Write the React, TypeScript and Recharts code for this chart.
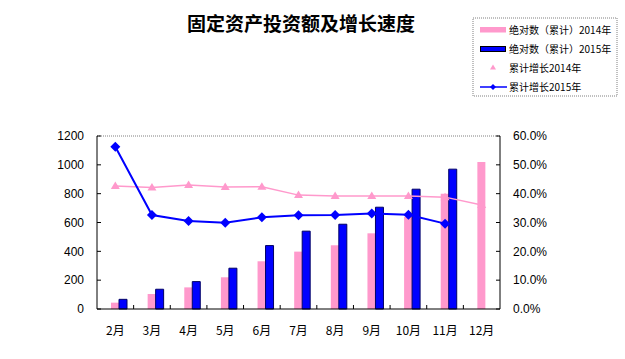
import React from 'react';
import { ComposedChart, Bar, Line, XAxis, YAxis, ReferenceLine, Rectangle } from 'recharts';

const months = ['2月', '3月', '4月', '5月', '6月', '7月', '8月', '9月', '10月', '11月', '12月'];
const abs2014 = [44, 104, 150, 220, 331, 398, 442, 525, 640, 800, 1020];
const abs2015: (number | null)[] = [67, 137, 190, 283, 440, 540, 588, 706, 831, 970, null];
const growth2014 = [42.7, 42.1, 43.0, 42.3, 42.4, 39.5, 39.2, 39.2, 39.2, 38.8, 36.1];
const growth2015: (number | null)[] = [56.3, 32.6, 30.5, 29.9, 31.8, 32.5, 32.6, 33.1, 32.7, 29.6, null];
const leftTicks = [0, 200, 400, 600, 800, 1000, 1200];
const rightTicks = [0, 10, 20, 30, 40, 50, 60];

const title = '固定资产投资额及增长速度';
const legendLabels = ['绝对数（累计）2014年', '绝对数（累计）2015年', '累计增长2014年', '累计增长2015年'];

const data = months.map((m, i) => ({
  month: m,
  a14: abs2014[i],
  a15: abs2015[i],
  g14: growth2014[i],
  g15: growth2015[i],
}));

const PINK = '#FF99CC';
const BLUE = '#0000FF';
const NAVY = '#000066';
const FONT = '"Liberation Sans", Arial, "Noto Sans CJK SC", sans-serif';
const CJK = '"Noto Sans CJK SC", "Liberation Sans", sans-serif';

const W = 625;
const H = 359;
const MARGIN = { top: 136, right: 65, bottom: 20, left: 0 };
const LEFT_W = 97;
const RIGHT_W = 60;
const PLOT_W = W - MARGIN.left - MARGIN.right - LEFT_W - RIGHT_W;
const HALF_BAND = PLOT_W / months.length / 2;

const XTick = (props: any) => {
  const { x, y, payload, index } = props;
  const idx = index ?? payload?.index ?? 0;
  return (
    <g>
      <text x={x} y={y + 26} textAnchor="middle" fontSize={12} fontFamily={CJK} fill="#000">
        {payload.value}
      </text>
      {idx > 0 && (
        <line x1={x - HALF_BAND} x2={x - HALF_BAND} y1={y} y2={y - 4} stroke="#000" strokeWidth={1} />
      )}
    </g>
  );
};

const Triangle = (props: any) => {
  const { cx, cy } = props;
  if (cx == null || cy == null || props.value == null) return null;
  return <polygon points={`${cx},${cy - 4.5} ${cx + 4.5},${cy + 3} ${cx - 4.5},${cy + 3}`} fill={PINK} />;
};

const Diamond = (props: any) => {
  const { cx, cy } = props;
  if (cx == null || cy == null || props.value == null) return null;
  return <polygon points={`${cx},${cy - 5} ${cx + 5},${cy} ${cx},${cy + 5} ${cx - 5},${cy}`} fill={BLUE} />;
};

const BlueBar = (props: any) => {
  if (props.value == null || !props.height) return null;
  return <Rectangle {...props} x={props.x + props.width} fill={BLUE} stroke={NAVY} strokeWidth={1} />;
};

const Legend = () => (
  <svg width={146} height={80} style={{ position: 'absolute', left: 472, top: 17 }}>
    <rect x={1} y={1} width={144} height={78} fill="#fff" stroke="#808080" strokeDasharray="1 1" />
    <rect x={8} y={10} width={26} height={5.5} fill={PINK} />
    <text x={37} y={16.5} fontSize={10} fontFamily={CJK} fill="#000">{legendLabels[0]}</text>
    <rect x={8.5} y={29.5} width={25} height={5} fill={BLUE} stroke="#000" strokeWidth={1} />
    <text x={37} y={35.5} fontSize={10} fontFamily={CJK} fill="#000">{legendLabels[1]}</text>
    <polygon points="21,47.5 24,52.5 18,52.5" fill={PINK} />
    <text x={37} y={55} fontSize={10} fontFamily={CJK} fill="#000">{legendLabels[2]}</text>
    <line x1={8} x2={35} y1={70} y2={70} stroke={BLUE} strokeWidth={1.5} />
    <polygon points="21,67 24,70 21,73 18,70" fill={BLUE} />
    <text x={37} y={74} fontSize={10} fontFamily={CJK} fill="#000">{legendLabels[3]}</text>
  </svg>
);

export default function App() {
  return (
    <div style={{ position: 'absolute', left: 0, top: 0, width: W, height: H, background: '#fff' }}>
      <div
        style={{
          position: 'absolute',
          left: 0,
          top: 10,
          width: 602,
          textAlign: 'center',
          fontFamily: CJK,
          fontWeight: 'bold',
          fontSize: 19,
          lineHeight: '26px',
          color: '#000',
        }}
      >
        {title}
      </div>
      <ComposedChart width={W} height={H} data={data} margin={MARGIN} barGap={0}>
        <XAxis
          xAxisId="x"
          dataKey="month"
          height={30}
          tickSize={0}
          tickMargin={0}
          tickLine={false}
          axisLine={{ stroke: '#000' }}
          tick={<XTick />}
          interval={0}
        />
        <XAxis xAxisId="x2" dataKey="month" hide />
        <YAxis
          yAxisId="left"
          orientation="left"
          width={LEFT_W}
          domain={[0, 1200]}
          ticks={leftTicks}
          interval={0}
          tickSize={-4}
          tickMargin={17}
          axisLine={{ stroke: '#000' }}
          tickLine={{ stroke: '#000' }}
          tick={{ fill: '#000', fontSize: 12, fontFamily: FONT }}
        />
        <YAxis
          yAxisId="right"
          orientation="right"
          width={RIGHT_W}
          domain={[0, 60]}
          ticks={rightTicks}
          interval={0}
          tickSize={-4}
          tickMargin={17}
          axisLine={{ stroke: '#000' }}
          tickLine={{ stroke: '#000' }}
          tick={{ fill: '#000', fontSize: 12, fontFamily: FONT }}
          tickFormatter={(v: number) => `${v.toFixed(1)}%`}
        />
        <ReferenceLine xAxisId="x" yAxisId="left" y={1200} stroke="#808080" strokeDasharray="1 1" />
        <Bar xAxisId="x" yAxisId="left" dataKey="a14" fill={PINK} barSize={8} isAnimationActive={false} />
        <Bar
          xAxisId="x2"
          yAxisId="left"
          dataKey="a15"
          fill={BLUE}
          barSize={8}
          shape={<BlueBar />}
          isAnimationActive={false}
        />
        <Line
          xAxisId="x"
          yAxisId="right"
          dataKey="g14"
          stroke={PINK}
          strokeWidth={1.5}
          dot={<Triangle />}
          activeDot={false}
          isAnimationActive={false}
        />
        <Line
          xAxisId="x"
          yAxisId="right"
          dataKey="g15"
          stroke={BLUE}
          strokeWidth={2}
          dot={<Diamond />}
          activeDot={false}
          isAnimationActive={false}
        />
      </ComposedChart>
      <Legend />
    </div>
  );
}
